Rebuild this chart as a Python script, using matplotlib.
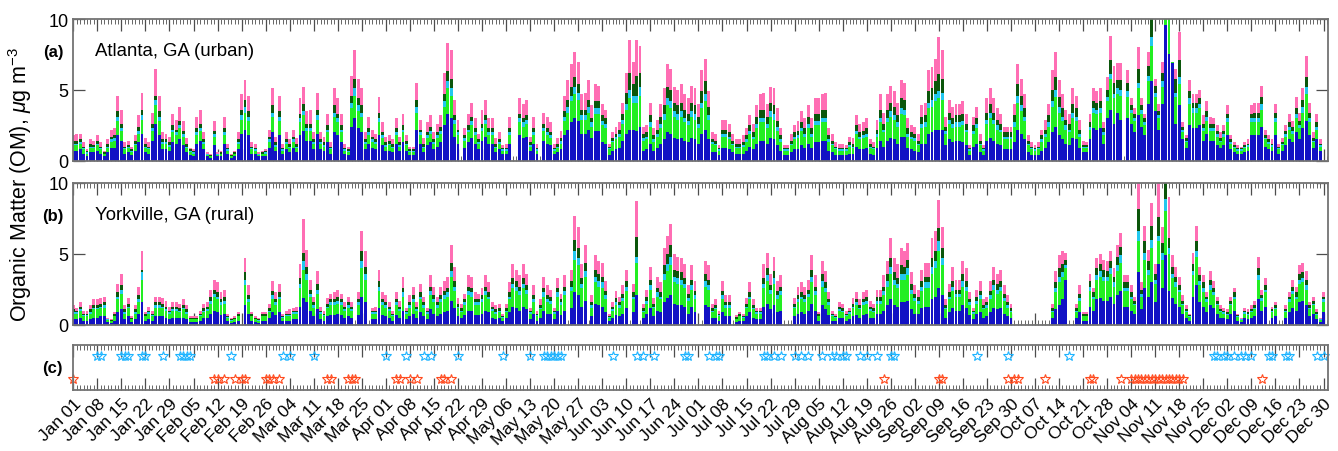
import numpy as np
import pandas as pd
import matplotlib
matplotlib.use('Agg')
import matplotlib.pyplot as plt
from matplotlib.ticker import FixedLocator, MultipleLocator

plt.rcParams['font.family'] = ['Liberation Sans', 'DejaVu Sans']
plt.rcParams['mathtext.fontset'] = 'custom'
plt.rcParams['mathtext.rm'] = 'Liberation Sans'
plt.rcParams['mathtext.it'] = 'Liberation Sans:italic'

# ---- daily OM components, Atlanta (day 0 = Jan 01, leap year) ----
a_blue = [
    .7, .7, .8, .5, .3, .6, .6,   .7, .5, .3, .6, .9, .9, 1.8,   1.4, .5, .6, .4, .7, 1.3, 1.9,
    .6, .5, 1.4, 2.6, 1.8, .8, .8,   .7, 1.3, 1.2, 1.5, 1.1, .6, .4,   .3, 1.2, 1.4, .8, .3, .2, 1.1,
    .3, .3, 1.2, .5, .2, .3, .8,   1.9, 2.2, 1.8, .5, .5, .3, .3,   .3, .9, 2.0, .7, 1.8, .5, .8,
    .6, .9, .6, 1.8, 2.1, 1.4, 1.4,   .8, 1.9, .8, .7, 1.3, .5, 2.0,   1.8, 1.3, .5, .4, 2.4, 3.0, 2.3,
    2.0, .8, 1.2, .9, .8, 1.8, 1.1,   .7, .7, .6, 1.2, .7, 1.3, .7,   .4, .4, 2.2, 1.2, .6, 1.1, 1.3,
    .8, 1.0, 1.3, 2.5, 3.3, 3.0, 1.7,   1.2, 0, .9, 1.3, 1.6, 1.2, .8,   1.4, 1.7, 1.2, 1.2, .6, .8, .5,
    .5, 1.2, 0, 0, 1.8, 1.6, 1.7,   .7, 1.2, .5, 0, 1.4, 1.2, 1.1,   .5, .6, .8, 1.8, 2.2, 2.7, 3.0,
    2.8, 1.9, 1.9, 2.2, 1.6, 2.1, 2.1,   1.3, 1.2, .4, .7, .8, .9, 1.4,   1.9, 2.2, 2.2, 2.1, 2.4, .7, .8,
    1.2, .7, .9, 1.2, 1.5, 2.0, 1.9,   1.6, 1.5, 1.6, 1.4, 1.3, 1.6, 1.5,   1.2, 1.9, 2.2, 1.5, .6, .6, .4,
    .9, .9, .8, .6, .5, .5, .5,   .7, 1.0, .8, 1.2, 1.4, 1.4, 1.2,   1.6, 1.5, 1.1, .7, .4, .4, .6,
    .8, .8, 1.1, .9, 1.2, .9, 1.3,   1.3, 1.4, 1.4, .7, .6, .4, .4,   .4, .4, .5, .5, 1.0, .8, .8,
    .9, .5, .4, .9, 1.4, 1.0, 1.4,   1.6, 1.5, 1.2, 1.7, 1.7, .9, .8,   .7, .6, 1.2, 1.2, 1.9, 2.0, 2.2,
    2.2, 2.2, 1.1, 1.5, 1.3, 1.4, 1.4,   1.3, 1.1, .4, 1.0, 1.2, .6, .4,   1.4, 1.6, 1.4, 1.2, 1.1, .8, .8,
    .8, 1.3, 2.2, 1.9, 1.5, .6, .4,   .4, .4, .7, .9, 1.3, 2.0, 2.4,   1.8, 1.5, 1.2, 1.1, 1.6, 1.5, .9,
    .6, .6, 1.5, 2.3, 2.2, 2.3, 1.2,   3.0, 3.6, 2.6, 3.4, 2.9, 0, 3.0,   2.6, 2.0, 3.2, 2.4, 1.8, 4.0, 5.6,
    3.5, 2.2, 4.0, 9.6, 7.5, 6.9, 2.6,   3.9, 1.5, .9, 2.5, 2.3, 2.3, 2.5,   1.4, 1.9, 1.4, 1.4, 1.1, .9, 1.1,
    1.8, .8, .6, .5, .5, .6, .7,   1.8, 1.8, 1.8, 2.4, 1.0, .8, .7,   1.8, .5, .7, 1.1, 1.5, 1.3, 2.0,
    1.5, 2.3, 2.8, 1.8, .9, 1.5, .7,   0, 0]
a_green = [
    .4, .4, .4, .3, .2, .3, .3,   .4, .3, .15, .3, .4, .5, 1.0,   .7, .3, .3, .2, .4, .6, 1.0,
    .3, .3, .7, 1.3, 1.0, .4, .4,   .3, .7, .6, .8, .6, .3, .2,   .2, .6, .7, .4, .1, .1, .6,
    .1, .15, .6, .2, .1, .15, .4,   1.0, 1.2, 1.0, .3, .2, .1, .15,   .2, .4, 1.1, .3, 1.0, .2, .4,
    .3, .4, .3, .9, 1.1, .7, .7,   .4, 1.0, .4, .3, .7, .3, 1.1,   .9, .7, .2, .2, 1.3, 1.6, 1.2,
    1.1, .4, .6, .4, .4, .9, .5,   .3, .4, .3, .6, .3, .7, .4,   .2, .2, 1.2, .6, .3, .5, .6,
    .4, .6, .6, 1.3, 1.8, 1.6, .9,   .6, 0, .5, .7, .9, .6, .4,   .7, .9, .6, .6, .3, .4, .2,
    .2, .6, 0, 0, .9, .8, .9,   .3, .6, .2, 0, .7, .6, .5,   .2, .3, .4, 1.0, 1.2, 1.5, 1.7,
    1.5, 1.0, 1.0, 1.2, .8, 1.2, 1.2,   1.2, 1.1, .4, .6, .7, .8, 1.2,   1.7, 2.2, 1.9, 2.0, 2.2, .7, .7,
    1.2, .6, .8, 1.1, 1.4, 1.9, 1.8,   1.5, 1.4, 1.5, 1.3, 1.2, 1.5, 1.4,   1.1, 1.8, 2.0, 1.4, .6, .5, .3,
    .8, .8, .7, .5, .4, .4, .5,   .6, .9, .7, 1.1, 1.3, 1.3, 1.1,   1.5, 1.4, 1.0, .6, .3, .3, .5,
    .7, .8, 1.0, .8, 1.1, .8, 1.2,   1.2, 1.3, 1.3, .6, .5, .4, .3,   .3, .3, .5, .4, .9, .7, .8,
    .8, .4, .4, .8, 1.3, 1.0, 1.3,   1.5, 1.4, 1.2, 1.6, 1.5, .8, .7,   .7, .5, 1.1, 1.2, 1.8, 1.8, 2.0,
    2.2, 2.1, .8, 1.1, 1.0, 1.0, 1.0,   1.2, .9, .3, .9, 1.1, .5, .3,   1.2, 1.4, 1.2, 1.0, .9, .7, .7,
    .7, 1.1, 1.9, 1.6, 1.3, .5, .4,   .3, .4, .6, .8, 1.1, 1.8, 2.1,   1.6, 1.3, 1.0, .9, 1.4, 1.3, .8,
    .3, .3, .7, 1.1, 1.1, 1.1, .6,   1.2, 2.2, 1.8, 1.3, 1.7, 0, 1.5,   .8, .8, 1.9, .9, .7, 1.6, 2.5,
    1.0, .8, 1.2, .8, 2.5, .1, 1.9,   1.5, .5, .4, 1.5, 1.1, 1.1, 1.2,   .7, .9, .7, .7, .6, .4, .6,
    .9, .4, .3, .2, .2, .3, .3,   .9, .9, .9, 1.2, .5, .4, .3,   .9, .3, .4, .6, .7, .6, 1.0,
    .8, 1.1, 1.9, .9, .4, .7, .3,   0, 0]
a_cyan = [
    .1, .1, .1, .1, .1, .1, .1,   .1, .1, .05, .1, .2, .2, .3,   .2, .1, .1, .1, .1, .2, .3,
    .1, .1, .2, .4, .3, .1, .1,   .1, .2, .2, .2, .2, .1, .1,   .1, .2, .2, .1, .05, .05, .2,
    .05, .05, .2, .1, .05, .05, .1,   .3, .4, .3, .1, .1, .05, .05,   .1, .2, .3, .1, .3, .1, .1,
    .1, .2, .1, .3, .3, .2, .2,   .1, .3, .1, .1, .2, .1, .3,   .3, .2, .1, .1, .4, .5, .4,
    .3, .1, .2, .2, .1, .3, .2,   .1, .1, .1, .2, .1, .2, .1,   .1, .1, .4, .2, .1, .2, .2,
    .1, .2, .2, .4, .5, .5, .3,   .2, 0, .2, .2, .3, .2, .1,   .2, .3, .2, .2, .1, .1, .1,
    .1, .2, 0, 0, .3, .3, .3,   .1, .2, .1, 0, .2, .2, .2,   .1, .1, .2, .3, .4, .4, .5,
    .5, .3, .3, .4, .3, .4, .4,   .3, .3, .1, .1, .2, .2, .3,   .4, .6, .5, .5, .6, .2, .2,
    .3, .2, .2, .3, .4, .5, .5,   .4, .4, .4, .3, .3, .4, .4,   .3, .4, .5, .3, .1, .1, .1,
    .2, .2, .2, .1, .1, .1, .1,   .2, .2, .2, .3, .3, .3, .3,   .4, .4, .3, .2, .1, .1, .1,
    .2, .2, .2, .2, .3, .2, .3,   .3, .3, .3, .2, .1, .1, .1,   .1, .1, .1, .1, .2, .2, .2,
    .2, .1, .1, .2, .3, .2, .3,   .4, .3, .3, .4, .4, .2, .2,   .2, .1, .3, .3, .4, .5, .5,
    .5, .5, .2, .3, .3, .3, .3,   .3, .2, .1, .2, .3, .1, .1,   .3, .4, .3, .3, .2, .2, .2,
    .2, .3, .5, .4, .3, .1, .1,   .1, .1, .2, .2, .3, .4, .5,   .4, .3, .3, .2, .4, .3, .2,
    .1, .1, .2, .3, .3, .3, .2,   .3, .3, .3, .4, .4, 0, .4,   .2, .2, .4, .3, .2, .4, .6,
    .3, .2, .4, .2, .3, 0, .3,   .5, .2, .1, .4, .3, .3, .3,   .2, .3, .2, .2, .2, .1, .2,
    .3, .1, .1, .1, .1, .1, .1,   .3, .3, .3, .4, .1, .1, .1,   .3, .1, .1, .2, .2, .2, .3,
    .2, .4, .5, .3, .1, .2, .1,   0, 0]
a_dkgreen = [
    .2, .2, .2, .1, .1, .2, .1,   .2, .1, .1, .2, .2, .2, .4,   .3, .1, .1, .1, .2, .3, .4,
    .2, .1, .3, .3, .4, .2, .2,   .2, .3, .2, .3, .2, .2, .1,   .1, .3, .3, .2, .05, .05, .2,
    .05, .1, .3, .1, .05, .1, .2,   .4, .5, .4, .1, .1, .05, .1,   .1, .2, .5, .2, .4, .1, .2,
    .2, .2, .2, .3, .5, .3, .3,   .2, .4, .2, .2, .3, .1, .5,   .3, .3, .1, .1, .5, .7, .5,
    .5, .2, .3, .2, .2, .4, .2,   .2, .2, .2, .3, .2, .3, .2,   .1, .1, .5, .2, .2, .2, .3,
    .2, .2, .3, .5, .7, .7, .3,   .2, 0, .2, .3, .3, .3, .2,   .3, .3, .3, .3, .2, .2, .1,
    .1, .3, 0, 0, .3, .3, .3,   .2, .3, .1, 0, .3, .3, .2,   .1, .2, .2, .4, .5, .6, .7,
    .6, .4, .4, .5, .3, .5, .5,   .4, .4, .1, .2, .2, .3, .4,   .8, 1.2, .8, 1.4, 1.0, .3, .3,
    .5, .3, .3, .5, .6, .8, .8,   .6, .6, .6, .6, .5, .6, .6,   .5, .8, .9, .6, .2, .2, .1,
    .3, .3, .3, .2, .2, .2, .2,   .3, .4, .3, .5, .6, .6, .5,   .6, .6, .4, .3, .1, .1, .2,
    .3, .3, .4, .4, .5, .4, .5,   .5, .6, .6, .3, .2, .1, .1,   .1, .1, .2, .2, .4, .3, .3,
    .4, .2, .1, .3, .6, .4, .6,   .6, .6, .5, .7, .7, .4, .3,   .3, .2, .5, .5, .8, .8, .9,
    1.2, 1.0, .3, .5, .4, .5, .5,   .5, .4, .1, .4, .4, .2, .1,   .5, .6, .5, .4, .4, .3, .3,
    .3, .5, .8, .7, .6, .2, .1,   .1, .1, .3, .3, .5, .8, .9,   .7, .6, .4, .4, .6, .6, .3,
    .1, .1, .3, .5, .5, .5, .3,   .5, 1.0, .8, .6, .7, 0, .6,   .3, .3, 1.0, .3, .3, .7, 1.3,
    .5, .3, .6, .2, .3, 0, 1.0,   1.2, .2, .2, .5, .4, .4, .4,   .3, .4, .3, .3, .2, .2, .2,
    .3, .2, .1, .1, .1, .1, .1,   .3, .4, .4, .5, .2, .2, .1,   .4, .1, .1, .2, .3, .3, .4,
    .3, .5, .7, .4, .2, .3, .1,   0, 0]
a_pink = [
    .4, .45, .4, .3, .1, .3, .3,   .4, .3, .1, .3, .5, .5, 1.1,   1.0, .3, .3, .2, .4, .8, 1.2,
    .4, .3, .8, 1.9, 1.1, .5, .4,   .4, .8, .7, 1.0, .7, .4, .1,   .1, .8, 1.0, .5, .1, .1, .7,
    .1, .1, .8, .3, .1, .1, .5,   1.1, 1.4, 1.1, .3, .3, .1, .1,   .1, .5, 1.2, .4, 1.1, .3, .5,
    .3, .5, .4, 1.1, 1.2, .9, 1.0,   .5, 1.2, .5, .4, .8, .3, 1.2,   1.1, .8, .3, .2, 1.4, 2.0, 1.4,
    1.2, .5, .8, .5, .4, 1.1, .7,   .4, .4, .3, .7, .4, .8, .4,   .2, .2, 1.2, .7, .4, .7, .8,
    .5, .6, .8, 1.5, 2.0, 2.0, 1.1,   .7, 0, .5, .8, 1.0, .7, .4,   1.0, 1.1, .7, .7, .4, .5, .2,
    .3, .8, 0, 0, 1.1, 1.0, 1.1,   .4, .8, .3, 0, .8, .8, .7,   .3, .4, .5, 1.1, 1.4, 1.6, 1.8,
    1.6, 1.1, 1.2, 1.4, .9, 1.2, 1.1,   .8, .6, .2, .4, .5, .5, .8,   1.4, 2.3, 1.6, 2.5, 1.9, .5, .5,
    .9, .5, .7, .9, 1.2, 1.6, 1.5,   1.1, 1.1, 1.3, 1.1, 1.1, 1.2, 1.2,   .9, 1.5, 1.6, 1.1, .5, .5, .2,
    .7, .7, .6, .5, .3, .3, .5,   .5, .7, .6, .8, 1.1, 1.2, .9,   1.1, 1.2, .9, .5, .2, .2, .5,
    .5, .7, .8, .7, .8, .7, 1.1,   1.1, 1.1, 1.2, .5, .5, .3, .3,   .3, .2, .4, .4, .7, .6, .6,
    .7, .3, .3, .7, 1.1, .8, 1.1,   1.2, 1.1, .9, 1.3, 1.2, .7, .5,   .5, .5, .8, .9, 1.5, 1.5, 1.6,
    2.6, 2.0, .7, .9, .8, .8, .8,   .9, .7, .2, .6, .8, .5, .2,   1.0, 1.1, 1.0, .8, .7, .4, .4,
    .4, .8, 1.4, 1.2, 1.0, .4, .3,   .2, .3, .4, .7, .8, 1.4, 1.8,   1.2, 1.0, .7, .7, 1.1, .9, .7,
    .3, .2, .6, .9, .8, .9, .4,   .9, 1.7, 1.2, 1.2, 1.2, 0, .9,   .5, .4, 1.5, .5, .3, 1.0, .5,
    .5, .5, .8, .2, .3, 0, .7,   2.0, .3, .2, .8, .6, .6, .6,   .6, .7, .5, .4, .4, .4, .4,
    .6, .3, .2, .2, .1, .2, .3,   .6, .7, .7, .8, .4, .3, .3,   .6, .2, .3, .4, .6, .4, .8,
    .6, .8, 1.5, .7, .4, .6, .3,   0, 0]

# ---- daily OM components, Yorkville ----
b_blue = [
    .4, .4, .5, .3, .3, .4, .5,   .5, .6, .6, .2, .15, .3, .9,   1.1, .4, .6, .2, .4, .8, 1.6,
    .3, .4, .3, .6, .6, .6, .5,   .4, .5, .5, .5, .5, .4, .2,   .2, .2, .3, .5, .5, .8, 1.0,
    .9, .7, .8, .25, .15, .2, .3,   0, 1.4, .8, .3, .2, .15, .3,   .3, .5, .9, .7, .9, .25, .3,
    .3, .4, .4, 1.3, 1.9, 1.6, 1.0,   .6, 1.1, .4, .3, .6, .7, .7,   .8, .7, .5, .6, .5, 0, .7,
    2.0, 1.6, 0, .4, .4, 1.2, .7,   .6, .5, .3, .7, .5, 1.0, .4,   .6, .8, .5, .9, .6, .4, 1.1,
    .8, .6, .8, .9, 1.0, 1.7, 1.2,   .6, .5, .7, 1.0, 1.0, .7, .7,   .8, 1.0, .9, .5, .4, .5, .25,
    .5, .9, 1.3, 1.2, 1.0, 1.3, 1.1,   .4, .8, .3, .5, 1.0, .8, .8,   .4, 1.0, .7, 1.0, 0, 1.2, 2.3,
    2.1, 1.3, 1.7, 0, .6, 1.5, 1.4,   1.3, .9, .25, .5, .7, .6, .8,   1.2, 0, .9, 2.1, 0, .5, .8,
    1.2, .6, 1.0, .9, 1.6, 1.9, 2.1,   1.5, 1.4, 1.4, 1.3, .8, 1.3, .9,   0, 0, 1.4, 1.3, .5, .5, .3,
    .9, .6, .6, 0, .2, .3, .25,   .6, .9, .5, .4, .4, 1.3, 1.5,   1.1, 1.4, .9, 1.0, 0, 0, 0,
    .6, .8, .9, .8, 1.0, 1.5, 1.0,   .3, 1.4, 1.1, .7, .3, .25, .5,   .5, .3, .4, .6, .7, .5, .7,
    .8, .5, .5, .8, .8, 1.0, 1.4,   1.8, 1.4, 1.3, 1.6, 1.6, 1.7, 1.1,   .8, .8, 1.2, 1.3, 1.3, 1.8, 2.0,
    2.6, 2.1, .5, .9, 1.2, 1.0, 1.0,   1.4, 1.2, .7, .4, .8, .9, .5,   .6, .9, 1.2, 1.1, 1.2, .8, .6,
    .5, 0, 0, 0, 0, 0, 0,   0, 0, 0, 0, 0, .5, 1.1,   1.4, 1.8, 3.2, 0, 0, .5, .9,
    .3, .3, 1.3, 1.0, 1.8, 1.9, 1.7,   1.7, 2.0, 1.5, 2.1, 2.4, 1.3, 1.3,   1.0, .8, 3.7, 1.1, 2.6, 2.0, 3.0,
    1.6, 4.3, 2.6, 4.9, 2.4, 1.9, 1.5,   1.3, .8, .5, .3, 2.0, 2.8, 1.6,   1.3, .9, 1.4, 1.2, .8, .5, .5,
    .4, .8, 1.0, .3, .2, .5, .4,   .5, .6, 1.8, 1.0, 1.3, 0, .5,   .6, 0, 0, .5, .9, 1.2, 1.0,
    1.6, 1.7, 1.4, .6, .8, .4, .2,   .9, 0]
b_green = [
    .4, .4, .5, .3, .3, .4, .6,   .6, .6, .6, .15, .1, .3, .9,   1.1, .4, .6, .2, .4, .8, 1.6,
    .3, .4, .3, .6, .6, .6, .5,   .4, .5, .5, .4, .6, .4, .2,   .2, .2, .3, .4, .5, .7, 1.0,
    .9, .7, .7, .25, .15, .2, .3,   0, 1.4, .8, .3, .2, .15, .3,   .3, .4, .9, .7, .9, .25, .3,
    .3, .4, .4, 1.3, 2.0, 1.6, 1.0,   .6, 1.1, .4, .3, .6, .7, .7,   .7, .7, .5, .6, .5, 0, .7,
    2.0, 1.6, 0, .4, .4, 1.2, .7,   .6, .5, .3, .7, .5, 1.0, .4,   .6, .8, .5, .9, .6, .4, 1.0,
    .8, .6, .8, .9, 1.0, 1.7, 1.2,   .6, .4, .7, 1.1, 1.0, .7, .7,   .8, 1.1, .9, .5, .4, .4, .25,
    .4, .9, 1.3, 1.2, 1.1, 1.3, 1.1,   .4, .8, .3, .6, 1.0, .8, .7,   .4, 1.0, .7, 1.1, 0, 1.2, 2.3,
    2.1, 1.3, 1.7, 0, .6, 1.5, 1.3,   1.3, .9, .25, .5, .7, .6, .9,   1.2, 0, .9, 2.3, 0, .4, .7,
    1.3, .6, 1.0, .9, 1.6, 1.9, 2.1,   1.5, 1.5, 1.4, 1.3, .9, 1.2, .9,   0, 0, 1.3, 1.2, .4, .6, .3,
    .9, .6, .6, 0, .2, .3, .25,   .6, .9, .6, .4, .4, 1.3, 1.6,   1.1, 1.5, .9, 1.1, 0, 0, 0,
    .6, .8, .9, .8, 1.0, 1.5, 1.1,   .3, 1.3, 1.2, .7, .3, .25, .5,   .4, .3, .4, .6, .7, .6, .7,
    .7, .5, .4, .7, .7, 1.1, 1.3,   1.8, 1.4, 1.3, 1.6, 1.6, 1.8, 1.1,   .9, .7, 1.2, 1.3, 1.3, 1.8, 2.0,
    2.6, 2.1, .6, .9, 1.2, 1.0, 1.0,   1.3, 1.2, .7, .4, .7, .9, .6,   .6, .9, 1.3, 1.1, 1.2, .9, .6,
    .4, 0, 0, 0, 0, 0, 0,   0, 0, 0, 0, 0, .4, 1.2,   1.6, 1.6, .8, 0, 0, .4, .8,
    .3, .3, 1.1, .8, 1.4, 1.5, 1.4,   1.4, 1.6, 1.2, 1.7, 2.0, 1.1, 1.1,   .8, .6, 2.2, .9, 2.0, 1.5, 2.4,
    1.3, 1.6, 2.0, 3.1, 2.6, 1.4, 1.2,   1.0, .6, .4, .25, 1.5, 2.0, 1.2,   1.0, .7, 1.1, .9, .6, .4, .3,
    .3, .6, .8, .25, .15, .3, .3,   .4, .5, 1.4, .7, 1.0, 0, .4,   .5, 0, 0, .4, .7, 1.0, .8,
    1.3, 1.3, 1.1, .5, .6, .3, .15,   .7, 0]
b_cyan = [
    .1, .1, .1, .1, .1, .1, .1,   .1, .1, .2, .05, .05, .05, .2,   .3, .1, .1, .05, .1, .2, .5,
    .05, .1, .1, .2, .2, .1, .1,   .1, .1, .1, .1, .1, .1, .05,   .05, .05, .1, .1, .1, .2, .2,
    .2, .2, .2, .05, .05, .05, .05,   0, .4, .2, .05, .05, .05, .05,   .05, .1, .3, .2, .2, .05, .1,
    .1, .1, .1, .3, .6, .4, .2,   .2, .3, .1, .1, .1, .2, .2,   .2, .2, .1, .2, .1, 0, .2,
    .5, .4, 0, .1, .1, .3, .2,   .2, .1, .1, .2, .1, .3, .1,   .2, .2, .1, .2, .2, .1, .3,
    .2, .2, .2, .3, .3, .4, .3,   .1, .1, .2, .3, .3, .2, .2,   .2, .3, .2, .1, .1, .1, .05,
    .1, .2, .3, .3, .3, .3, .3,   .1, .2, .1, .1, .3, .2, .2,   .1, .3, .2, .3, 0, .3, .6,
    .5, .3, .4, 0, .2, .4, .4,   .4, .3, .05, .1, .2, .2, .2,   .3, 0, .2, .4, 0, .1, .2,
    .3, .1, .3, .2, .4, .5, .6,   .4, .4, .4, .3, .2, .3, .3,   0, 0, .4, .3, .1, .1, .1,
    .3, .2, .2, 0, .05, .05, .05,   .1, .2, .1, .1, .1, .3, .4,   .3, .4, .3, .3, 0, 0, 0,
    .1, .2, .2, .2, .2, .4, .3,   .05, .4, .3, .2, .1, .05, .1,   .1, .1, .1, .1, .2, .1, .2,
    .2, .1, .1, .2, .2, .3, .4,   .5, .4, .3, .4, .4, .5, .3,   .2, .2, .3, .4, .4, .5, .5,
    .7, .5, .1, .2, .3, .2, .2,   .4, .3, .2, .1, .2, .3, .1,   .2, .3, .3, .3, .3, .2, .2,
    .1, 0, 0, 0, 0, 0, 0,   0, 0, 0, 0, 0, .1, .3,   .4, .3, .2, 0, 0, .1, .2,
    .05, .05, .3, .2, .3, .4, .3,   .3, .4, .3, .4, .5, .2, .2,   .2, .1, .7, .2, .5, .4, .6,
    .3, .4, .5, .9, .4, .3, .3,   .2, .1, .1, .05, .3, .4, .3,   .3, .2, .3, .2, .1, .1, .1,
    .1, .1, .2, .05, .05, .1, .1,   .1, .1, .3, .2, .2, 0, .1,   .1, 0, 0, .1, .2, .2, .2,
    .3, .3, .3, .1, .1, .1, .05,   .2, 0]
b_dkgreen = [
    .2, .1, .2, .1, .1, .2, .2,   .2, .2, .2, .05, .05, .1, .3,   .3, .2, .2, .05, .2, .3, .2,
    .1, .1, .1, .2, .2, .2, .2,   .1, .2, .2, .2, .2, .2, .05,   .05, .05, .1, .2, .2, .3, .3,
    .3, .2, .3, .1, .05, .05, .1,   0, .5, .3, .1, .05, .05, .1,   .1, .2, .3, .2, .3, .1, .1,
    .1, .1, .1, .4, .6, .5, .3,   .2, .4, .1, .1, .2, .2, .2,   .3, .2, .2, .2, .2, 0, .2,
    .7, .5, 0, .1, .1, .4, .2,   .2, .2, .1, .2, .2, .3, .1,   .2, .3, .2, .3, .2, .1, .3,
    .3, .2, .3, .3, .3, .6, .4,   .2, .2, .2, .3, .3, .2, .2,   .3, .3, .3, .2, .2, .2, .1,
    .2, .3, .4, .4, .3, .4, .3,   .1, .3, .1, .2, .3, .3, .3,   .1, .3, .2, .3, 0, .4, .8,
    .7, .4, .6, 0, .2, .5, .5,   .4, .3, .1, .2, .3, .2, .3,   .4, 0, .3, 1.4, 0, .2, .3,
    .4, .2, .3, .3, .6, .7, .8,   .5, .5, .5, .4, .3, .4, .3,   0, 0, .5, .4, .2, .2, .1,
    .3, .2, .2, 0, .1, .1, .1,   .2, .3, .2, .1, .1, .4, .5,   .3, .5, .3, .3, 0, 0, 0,
    .2, .3, .3, .3, .3, .5, .3,   .1, .5, .4, .2, .1, .1, .2,   .2, .1, .1, .2, .2, .2, .2,
    .3, .2, .2, .3, .3, .3, .5,   .6, .5, .4, .6, .5, .6, .4,   .3, .3, .4, .4, .4, .6, .7,
    .9, .7, .2, .3, .4, .3, .3,   .5, .4, .2, .1, .3, .3, .2,   .2, .3, .4, .4, .4, .3, .2,
    .2, 0, 0, 0, 0, 0, 0,   0, 0, 0, 0, 0, .2, .4,   .6, .6, .4, 0, 0, .2, .3,
    .1, .1, .4, .3, .5, .5, .5,   .4, .5, .4, .6, .6, .4, .4,   .3, .2, 1.6, .3, .8, .6, 1.0,
    .4, 1.3, .7, 1.1, .7, .5, .4,   .3, .2, .1, .1, .5, .7, .4,   .4, .2, .4, .3, .2, .1, .1,
    .1, .2, .3, .1, .05, .1, .1,   .1, .2, .5, .2, .3, 0, .1,   .2, 0, 0, .1, .2, .3, .3,
    .4, .4, .4, .2, .2, .1, .05,   .2, 0]
b_pink = [
    .3, .2, .3, .2, .2, .3, .4,   .4, .4, .4, .05, .05, .15, .6,   .8, .3, .4, .1, .3, .6, 1.3,
    .15, .3, .2, .4, .4, .4, .4,   .3, .3, .3, .3, .4, .3, .1,   .1, .1, .2, .3, .3, .5, .7,
    .7, .5, .5, .15, .1, .1, .15,   0, 1.0, .7, .15, .1, .1, .15,   .15, .3, .7, .5, .6, .15, .2,
    .3, .2, .3, 1.0, 2.4, 1.2, .7,   .4, .9, .3, .2, .4, .4, .5,   .5, .4, .3, .4, .3, 0, .5,
    1.4, 1.1, 0, .2, .3, .8, .5,   .5, .3, .2, .5, .4, .8, .2,   .5, .6, .3, .6, .4, .2, .8,
    .6, .4, .6, .7, .8, 1.2, 1.0,   .4, .3, .4, .8, .8, .5, .4,   .5, .8, .7, .3, .3, .3, .15,
    .3, .7, 1.0, .8, .8, 1.0, .8,   .2, .7, .2, .4, .8, .7, .5,   .2, .7, .4, .8, 0, .8, 1.7,
    1.5, 1.0, 1.2, 0, .5, 1.0, .9,   1.0, .7, .15, .3, .5, .4, .6,   .8, 0, .6, 2.5, 0, .3, .5,
    .9, .4, .8, .7, 1.2, 1.3, 1.5,   1.1, 1.0, 1.0, 1.0, .6, 1.0, .7,   0, 0, .9, 1.0, .3, .4, .2,
    .7, .5, .5, 0, .15, .15, .15,   .4, .7, .4, .2, .2, 1.0, 1.1,   .8, 1.0, .7, .8, 0, 0, 0,
    .4, .6, .7, .6, .7, 1.0, .8,   .15, .9, .8, .5, .2, .15, .3,   .3, .2, .2, .4, .5, .4, .5,
    .5, .4, .3, .5, .5, .8, .9,   1.4, 1.0, 1.0, 1.2, 1.1, 1.2, .8,   .6, .5, .8, 1.0, 1.0, 1.4, 1.4,
    2.0, 1.5, .4, .6, 1.0, .7, .7,   .9, .9, .5, .2, .5, .7, .4,   .4, .7, .9, .7, .8, .6, .5,
    .3, 0, 0, 0, 0, 0, 0,   0, 0, 0, 0, 0, .3, .8,   .9, .9, .5, 0, 0, .3, .6,
    .15, .15, .5, .3, .7, .7, .7,   .7, .7, .6, .8, 1.0, .5, .5,   .5, .3, 2.3, .5, 1.1, .8, 1.6,
    .7, 2.9, 1.1, .5, 2.9, .8, .7,   .6, .4, .3, .1, .8, 1.1, .6,   .5, .3, .6, .5, .3, .3, .2,
    .2, .3, .3, .1, .05, .2, .2,   .3, .3, .8, .4, .5, 0, .2,   .2, 0, 0, .3, .3, .5, .4,
    .6, .7, .6, .2, .3, .2, .05,   .3, 0]

# ---- panel (c) marker days ----
blue_star_days = [7, 8, 14, 15, 16, 20, 21, 26, 31, 32, 33, 34, 46, 61, 63, 70,
                  91, 97, 102, 104, 112, 125, 133, 137, 138, 139, 140, 141, 142,
                  157, 164, 166, 169, 178, 179, 185, 187, 188, 201, 202, 204, 206,
                  210, 212, 214, 218, 221, 222, 224, 225, 229, 231, 234, 238, 239,
                  263, 272, 290, 332, 333, 335, 336, 338, 340, 341, 343, 348, 349,
                  353, 354, 362, 364]
red_star_days = [0, 41, 42, 44, 47, 49, 50, 56, 57, 58, 60, 74, 75, 80, 81, 82,
                 94, 95, 98, 100, 107, 108, 110, 236, 252, 253, 272, 274, 275, 283,
                 296, 297, 305, 308, 309, 310, 311, 312, 313, 314, 315, 316, 317,
                 318, 319, 320, 321, 322, 323, 346]

colors = ['#1212C4', '#22EE22', '#22C8EE', '#0B560B', '#FF6EB4']
days = np.arange(len(a_blue))
tick_days = np.arange(0, 365, 7)
tick_labels = pd.date_range('2012-01-01', periods=len(tick_days), freq='7D').strftime('%b %d')

W, H = 1338, 452
fig = plt.figure(figsize=(W / 100, H / 100), dpi=100)


def px_axes(x0, y0, x1, y1):
    return fig.add_axes([x0 / W, 1 - y1 / H, (x1 - x0) / W, (y1 - y0) / H])


def style_axis(ax):
    ax.set_xlim(0, 365.3)
    ax.xaxis.set_major_locator(FixedLocator(tick_days))
    ax.xaxis.set_minor_locator(MultipleLocator(1))
    ax.tick_params(which='both', direction='in', top=True, bottom=True,
                   left=True, right=True, labelsize=13)
    ax.tick_params(which='major', length=8.5, width=0.9, color='0.3')
    ax.tick_params(which='minor', length=3.5, width=0.7, color='0.4')
    ax.set_axisbelow(True)
    for s in ax.spines.values():
        s.set_color('0.45')
        s.set_linewidth(1.3)


def stacked(ax, parts, label):
    bottom = np.zeros(len(days))
    for vals, col in zip(parts, colors):
        vals = np.array(vals, dtype=float)
        ax.bar(days, vals, width=0.85, bottom=bottom, color=col, linewidth=0)
        bottom += vals
    style_axis(ax)
    ax.set_ylim(0, 10)
    ax.set_yticks([0, 5, 10])
    ax.set_xticklabels([])
    ax.text(6.3, 7.8, label, fontsize=13.4, va='center', ha='left')


ax_a = px_axes(73.3, 20, 1328, 161.7)
stacked(ax_a, [a_blue, a_green, a_cyan, a_dkgreen, a_pink], 'Atlanta, GA (urban)')

ax_b = px_axes(73.3, 184, 1328, 326)
stacked(ax_b, [b_blue, b_green, b_cyan, b_dkgreen, b_pink], 'Yorkville, GA (rural)')

ax_c = px_axes(73.3, 346, 1328, 391)
style_axis(ax_c)
ax_c.set_ylim(0, 1)
ax_c.set_yticks([])
ax_c.plot(blue_star_days, np.full(len(blue_star_days), 0.75), linestyle='none',
          marker='*', ms=7, mfc='none', mec='#1EB4FF', mew=0.8, clip_on=False)
ax_c.plot(red_star_days, np.full(len(red_star_days), 0.25), linestyle='none',
          marker='*', ms=7, mfc='none', mec='#FF4A1E', mew=0.8, clip_on=False)
ax_c.set_xticklabels(tick_labels, rotation=45, ha='right', rotation_mode='anchor',
                     fontsize=12.5)
ax_c.tick_params(axis='x', which='major', pad=4)

fig.text(53 / W, 1 - 52 / H, '(a)', fontsize=12, fontweight='bold', ha='center', va='center')
fig.text(53 / W, 1 - 217 / H, '(b)', fontsize=12, fontweight='bold', ha='center', va='center')
fig.text(52 / W, 1 - 368 / H, '(c)', fontsize=12, fontweight='bold', ha='center', va='center')
fig.text(20 / W, 1 - 184 / H, 'Organic Matter (OM), $\\mu$g m$^{-3}$', rotation=90,
         fontsize=15.5, ha='center', va='center')

fig.savefig('out.png', dpi=100)
